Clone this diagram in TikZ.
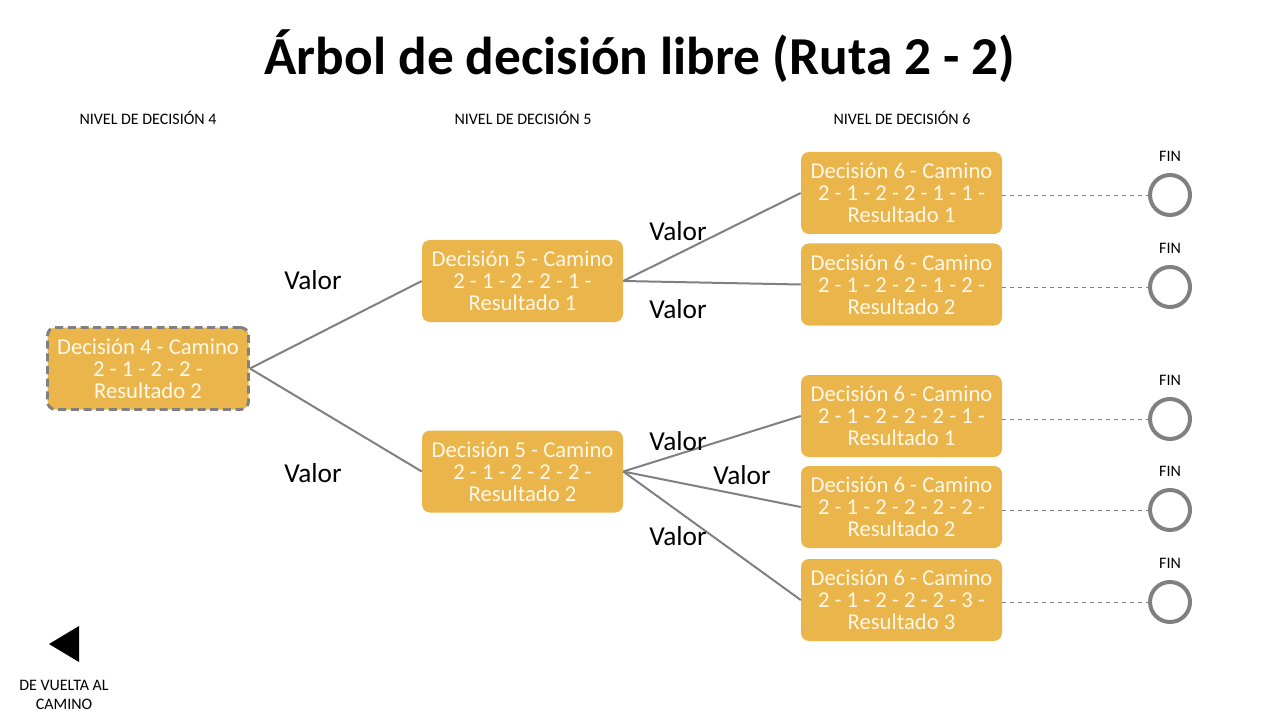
\documentclass[tikz,border=0pt]{standalone}
\usepackage{fontspec}
\setmainfont{Carlito}
\usepackage{tikz}
\definecolor{gold}{RGB}{234,181,74}
\definecolor{edgegray}{RGB}{128,128,128}
\definecolor{boxtext}{RGB}{255,248,232}

\begin{document}
\begin{tikzpicture}[x=0.75pt,y=-0.75pt]

	\tikzstyle decision=[fill=gold, rounded corners=6pt, minimum width=150.75pt, minimum height=61.5pt, align=center, text=boxtext, font=\fontsize{17}{16.5}\selectfont, inner sep=2pt];
	\tikzstyle branch=[edgegray, line width=1.5pt];
	\tikzstyle value=[font=\fontsize{20.5}{24}\selectfont];
	\tikzstyle level=[font=\fontsize{12}{14}\selectfont];
	\tikzstyle fin=[circle, draw=edgegray, line width=3pt, minimum size=30pt, inner sep=0pt];
	\tikzstyle fin label=[font=\fontsize{12}{14}\selectfont, above=5pt];
	\tikzstyle fin lines=[edgegray, dashed, line width=0.6pt];

	\useasboundingbox (0,0) rectangle (1280,720);

	% title and levels
	\node[font=\fontsize{40}{46}\selectfont\bfseries] (title) at (640,56) {Árbol de decisión libre (Ruta 2 - 2)};
	\node[level] (lvl4) at (148,118) {NIVEL DE DECISIÓN 4};
	\node[level] (lvl5) at (523,118) {NIVEL DE DECISIÓN 5};
	\node[level] (lvl6) at (902,118) {NIVEL DE DECISIÓN 6};

	% decision 4
	\node[decision, draw=edgegray, dash pattern=on 6pt off 3.5pt, line width=2.2pt] (d4) at (148,368.5) {Decisión 4 - Camino\\2 - 1 - 2 - 2 -\\Resultado 2};

	% decision 5
	\node[decision] (d5a) at (522.5,281) {Decisión 5 - Camino\\2 - 1 - 2 - 2 - 1 -\\Resultado 1};
	\node[decision] (d5b) at (522.5,471.5) {Decisión 5 - Camino\\2 - 1 - 2 - 2 - 2 -\\Resultado 2};

	% decision 6
	\node[decision] (d6a) at (901.5,193) {Decisión 6 - Camino\\2 - 1 - 2 - 2 - 1 - 1 -\\Resultado 1};
	\node[decision] (d6b) at (901.5,284.5) {Decisión 6 - Camino\\2 - 1 - 2 - 2 - 1 - 2 -\\Resultado 2};
	\node[decision] (d6c) at (901.5,416) {Decisión 6 - Camino\\2 - 1 - 2 - 2 - 2 - 1 -\\Resultado 1};
	\node[decision] (d6d) at (901.5,507) {Decisión 6 - Camino\\2 - 1 - 2 - 2 - 2 - 2 -\\Resultado 2};
	\node[decision] (d6e) at (901.5,600) {Decisión 6 - Camino\\2 - 1 - 2 - 2 - 2 - 3 -\\Resultado 3};

	\draw[branch] (d4.east) -- (d5a.west);
	\draw[branch] (d4.east) -- (d5b.west);
	\draw[branch] (d5a.east) -- (d6a.west);
	\draw[branch] (d5a.east) -- (d6b.west);
	\draw[branch] (d5b.east) -- (d6c.west);
	\draw[branch] (d5b.east) -- (d6d.west);
	\draw[branch] (d5b.east) -- (d6e.west);

	\node[value] (v1) at (313,280) {Valor};
	\node[value] (v2) at (313,473) {Valor};
	\node[value] (v3) at (678,231) {Valor};
	\node[value] (v4) at (678,309) {Valor};
	\node[value] (v5) at (678,441) {Valor};
	\node[value] (v6) at (742,475) {Valor};
	\node[value] (v7) at (678,536) {Valor};

	% fin
	\node[fin] (fa) at (1170,195) {};
	\node[fin] (fb) at (1170,287) {};
	\node[fin] (fc) at (1170,419) {};
	\node[fin] (fd) at (1170,510) {};
	\node[fin] (fe) at (1170,602) {};
	\node[fin label] (la) at (fa.north) {FIN};
	\node[fin label] (lb) at (fb.north) {FIN};
	\node[fin label] (lc) at (fc.north) {FIN};
	\node[fin label] (ld) at (fd.north) {FIN};
	\node[fin label] (le) at (fe.north) {FIN};
	\draw[fin lines] (d6a.east |- fa) -- (fa.west);
	\draw[fin lines] (d6b.east |- fb) -- (fb.west);
	\draw[fin lines] (d6c.east |- fc) -- (fc.west);
	\draw[fin lines] (d6d.east |- fd) -- (fd.west);
	\draw[fin lines] (d6e.east |- fe) -- (fe.west);

	% back
	\fill (49,644) -- (79,626) -- (79,662) -- cycle;
	\node[level, align=center, font=\fontsize{12}{14.5}\selectfont] (back) at (64,695) {DE VUELTA AL\\CAMINO};

\end{tikzpicture}
\end{document}
